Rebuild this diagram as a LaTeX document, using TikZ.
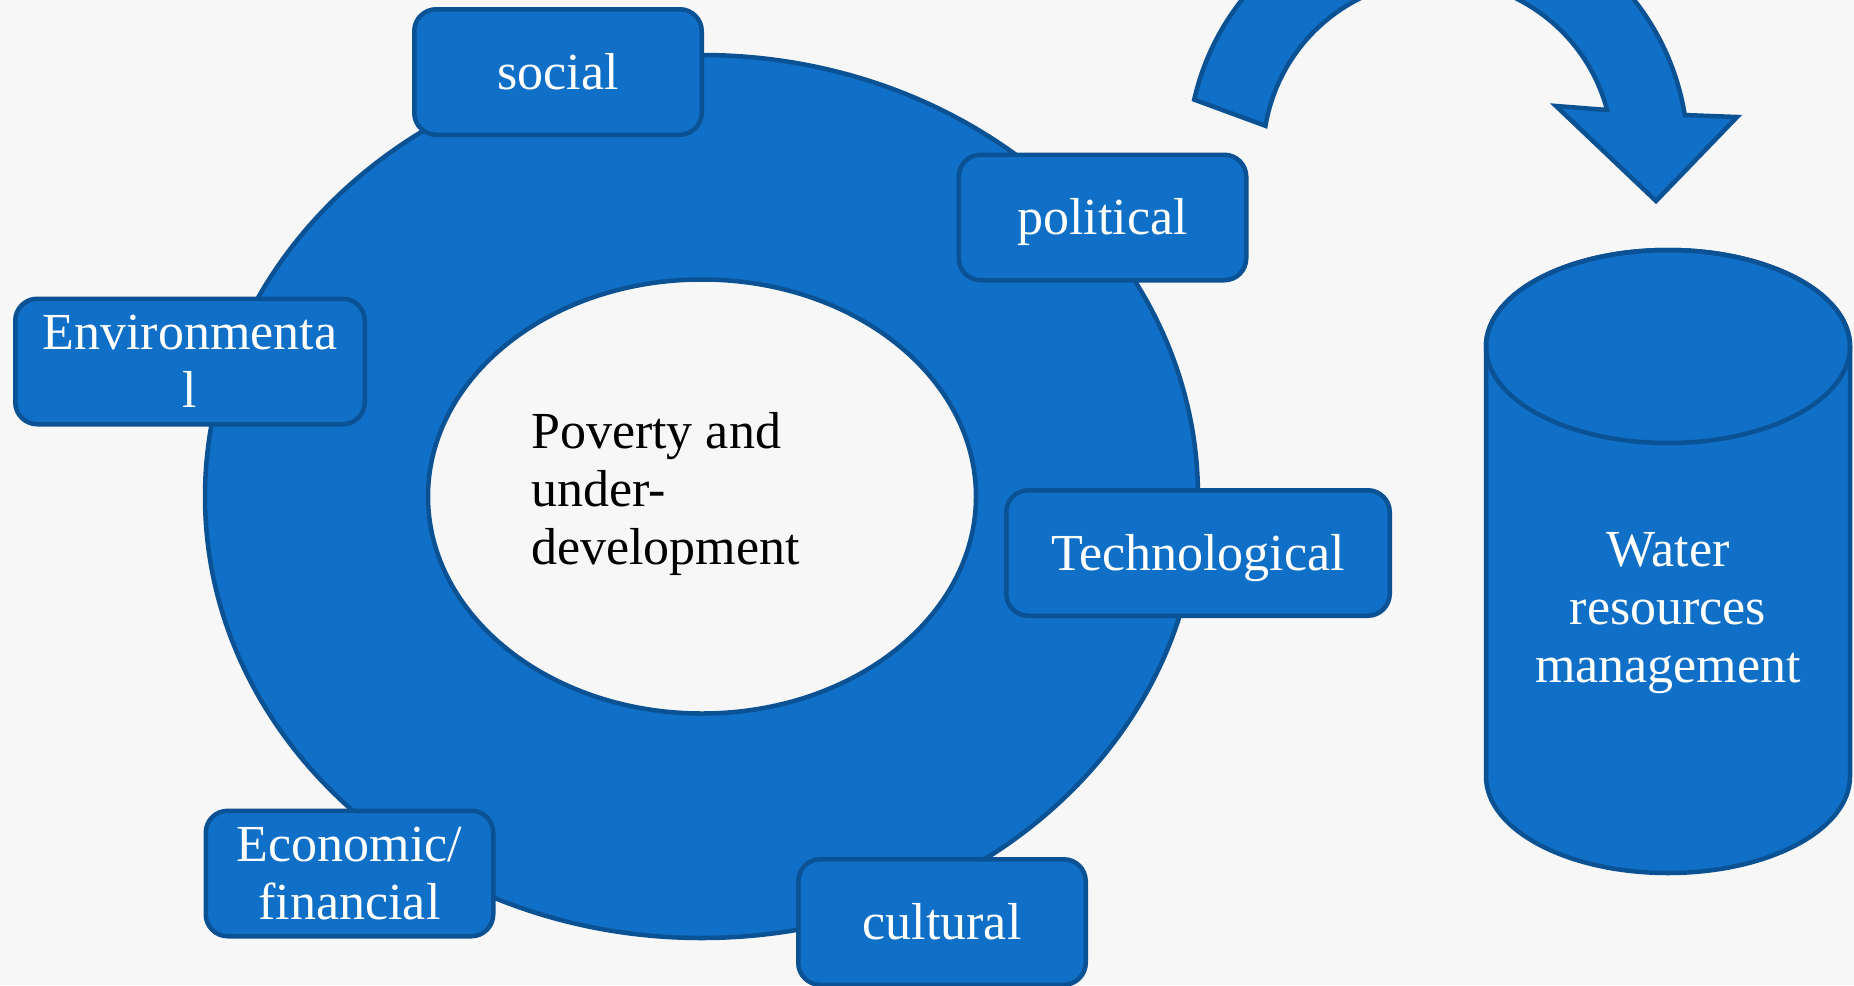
\documentclass[tikz,border=0pt]{standalone}
\usepackage{fontspec}
\setmainfont{Liberation Serif}
\usetikzlibrary{shapes.geometric,calc}
\definecolor{bg}{RGB}{247,247,247}
\definecolor{fillblue}{RGB}{16,111,198}
\definecolor{edgeblue}{RGB}{11,82,148}
\begin{document}
\begin{tikzpicture}[x=1pt,y=1pt,
  outl/.style={draw=edgeblue, line width=4.5pt},
  box/.style={outl, fill=fillblue, rounded corners=22pt, minimum width=287.5pt,
    minimum height=125.5pt, inner sep=0pt, text=white, align=center,
    font=\fontsize{52}{58}\selectfont},
  one/.style={text height=34pt, text depth=0pt},
  txt/.style={font=\fontsize{52}{58}\selectfont, inner sep=0pt}
]
\fill[bg] (0,0) rectangle (1854,-985);
\useasboundingbox (0,0) rectangle (1854,-985);

% ring
\node[ellipse, outl, fill=fillblue, minimum width=993pt, minimum height=883pt, inner sep=0pt] (ring) at (701.5,-496.5) {};
\node[ellipse, outl, fill=bg, minimum width=548pt, minimum height=434pt, inner sep=0pt] (hole) at (702,-496.5) {};
\node[txt, align=left, anchor=west, text=black] (core) at (531,-494) {Poverty and\\under-\\development};

% boxes
\node[box, one] (social) at (558,-72) {social};
\node[box, one] (political) at (1102.5,-217.5) {political};
\node[box, minimum width=349.5pt] (env) at (190,-361.5) {Environmenta\\l};
\node[box, one, minimum width=383.5pt] (tech) at (1198,-553) {Technological};
\node[box] (econ) at (349.5,-873.5) {Economic/\\financial};
\node[box, one] (cult) at (942,-922) {cultural};

% curved arrow
\coordinate (C) at (1438,-155);
\filldraw[outl, fill=fillblue, line join=miter]
  ($(C)+(167.2:250)$) arc[start angle=167.2, end angle=9.2, radius=250]
  -- (1737,-117) -- (1656,-201) -- (1556,-106)
  -- ($(C)+(14.9:175)$) arc[start angle=14.9, end angle=170.4, radius=175]
  -- cycle;

% cylinder
\filldraw[outl, fill=fillblue]
  (1486,-346.5) -- (1486,-776.5)
  arc[start angle=180, end angle=360, x radius=182, y radius=96.5]
  -- (1850,-346.5)
  arc[start angle=0, end angle=180, x radius=182, y radius=96.5] -- cycle;
\draw[outl] (1668,-346.5) ellipse[x radius=182, y radius=96.5];
\node[txt, align=center, text=white] (water) at (1668,-613) {Water\\resources\\management};
\end{tikzpicture}
\end{document}
